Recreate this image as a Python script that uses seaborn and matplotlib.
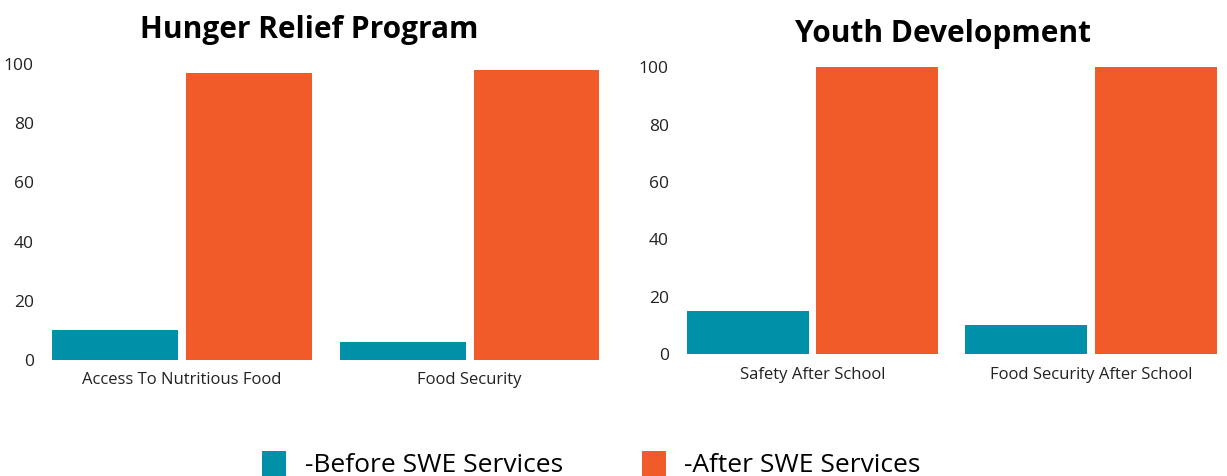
import matplotlib
matplotlib.use("Agg")
import matplotlib.pyplot as plt
from matplotlib.patches import Patch
import pandas as pd
import seaborn as sns

sns.set_theme(style="white")
plt.rcParams["font.family"] = ["Open Sans", "DejaVu Sans"]

# data
periods = ["-Before SWE Services", "-After SWE Services"]
colors = ["#0090a8", "#f15a29"]

hunger_categories = ["Access To Nutritious Food", "Food Security"]
hunger_before = [10, 6]
hunger_after = [97, 98]

youth_categories = ["Safety After School", "Food Security After School"]
youth_before = [15, 10]
youth_after = [100, 100]


def _frame(categories, before, after):
    return pd.DataFrame({
        "category": categories * 2,
        "period": [periods[0]] * len(before) + [periods[1]] * len(after),
        "value": before + after,
    })


def _panel(ax, frame, title, xmax, title_x, title_pad):
    sns.barplot(
        data=frame, x="category", y="value", hue="period",
        hue_order=periods, palette=colors, saturation=1,
        width=0.93, gap=0.06, linewidth=0, legend=False, ax=ax,
    )
    ax.set_ylim(0, 100)
    ax.set_xlim(-0.5, xmax)
    ax.set_yticks([0, 20, 40, 60, 80, 100])
    ax.set_xlabel("")
    ax.set_ylabel("")
    ax.tick_params(axis="both", length=0, colors="#222222")
    ax.tick_params(axis="y", labelsize=12.5, pad=3)
    ax.tick_params(axis="x", labelsize=12, pad=9)
    sns.despine(ax=ax, left=True, bottom=True)
    ax.grid(False)
    ax.set_title(title, fontsize=21.5, fontweight="bold", color="black",
                 x=title_x, pad=title_pad)


fig = plt.figure(figsize=(12.27, 4.76), dpi=100)
ax1 = fig.add_axes([0.031, 0.2437, 0.469, 0.622])
ax2 = fig.add_axes([0.5485, 0.2563, 0.4499, 0.602])

_panel(ax1, _frame(hunger_categories, hunger_before, hunger_after),
       "Hunger Relief Program", 1.5, 0.472, 19)
_panel(ax2, _frame(youth_categories, youth_before, youth_after),
       "Youth Development", 1.48, 0.489, 18)

handles = [Patch(facecolor=c, edgecolor="none") for c in colors]
fig.legend(
    handles, periods, loc="lower center", bbox_to_anchor=(0.482, -0.055),
    ncol=2, frameon=False, fontsize=19, handlelength=0.9, handleheight=1.1,
    handletextpad=0.7, columnspacing=3.0, labelcolor="black",
)

fig.savefig("out.png", dpi=100)
